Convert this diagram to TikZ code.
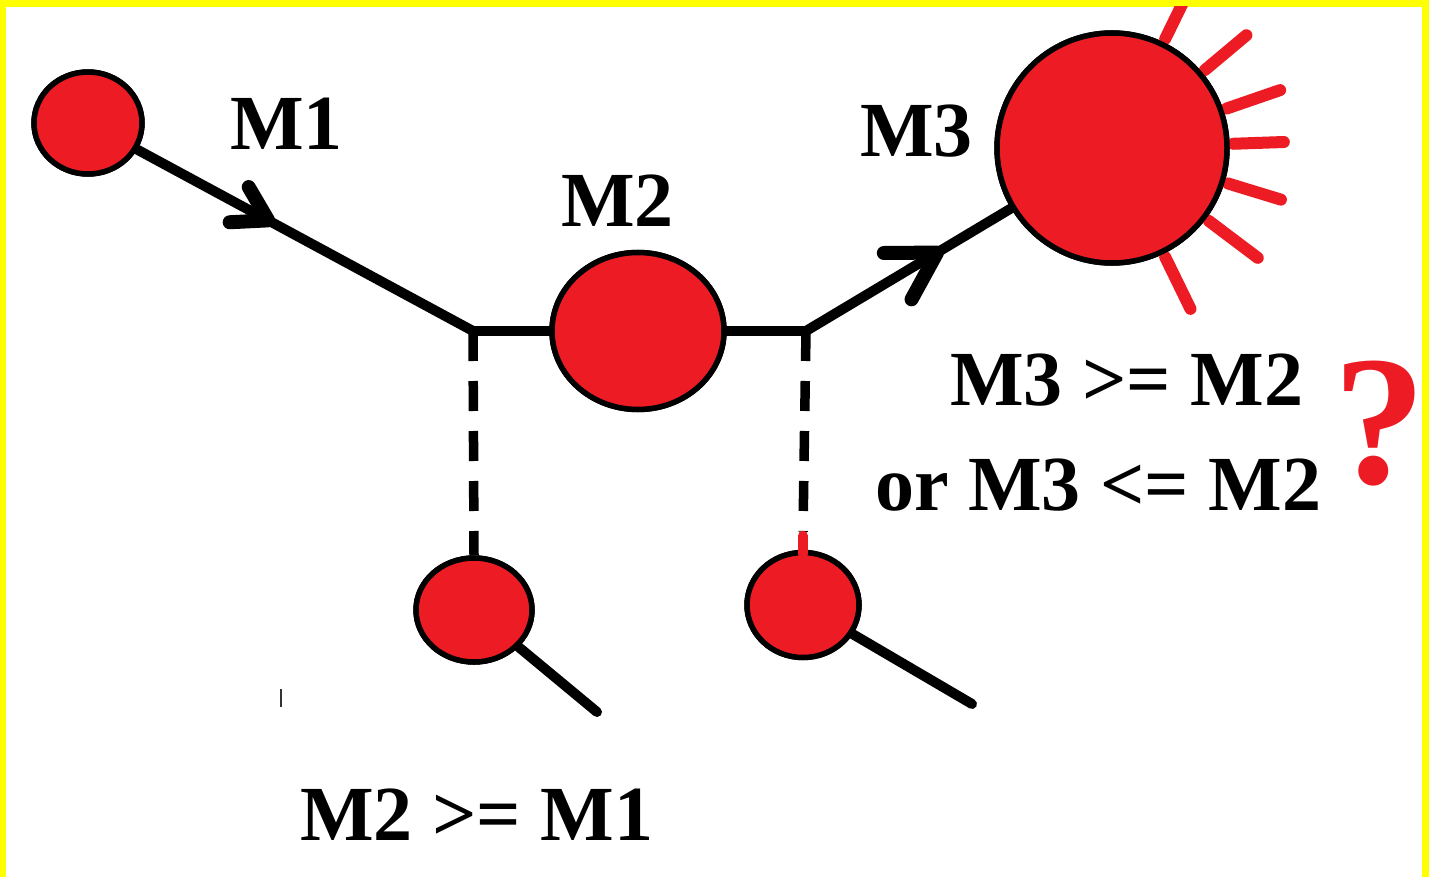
\documentclass[tikz,border=0pt]{standalone}
\usepackage{fontspec}
\setmainfont{Liberation Serif}
\usetikzlibrary{shapes.geometric,calc,decorations.markings}

\definecolor{paintred}{HTML}{ED1C24}
\definecolor{frameyellow}{HTML}{FFFF00}

\tikzset{
  ball/.style={ellipse, draw=black, fill=paintred, line width=5.5pt, inner sep=0pt},
  rod/.style={draw=black, line width=10pt, line cap=round, line join=round},
  dashrod/.style={draw=black, line width=9.5pt, dash pattern=on 30pt off 20pt},
  ray/.style={draw=paintred, line width=12pt, line cap=round},
  lbl/.style={anchor=base west, inner sep=0pt, font=\fontsize{78}{78}\selectfont\bfseries},
  % a hand-drawn barb placed part way along a rod
  barb/.style args={#1/#2/#3}{postaction={decorate}, decoration={markings,
      mark=at position #1 with {\draw[rod, line width=14pt] (-#2pt,#3pt) -- (0pt,0pt) -- (-#2pt,-#3pt);}}},
}

\begin{document}
\begin{tikzpicture}[x=1pt, y=-1pt]
  % page and frame
  \fill[white] (0,0) rectangle (1429,877);
  \fill[frameyellow] (0,0) rectangle (1429,7);
  \fill[frameyellow] (0,0) rectangle (6,877);
  \fill[frameyellow] (1422,0) rectangle (1429,877);
  \useasboundingbox (0,0) rectangle (1429,877);

  % junction points on the main chain
  \coordinate (J1) at (473,331);
  \coordinate (J2) at (806,331);

  % balls
  \node[ball, minimum width=108pt, minimum height=102pt] (C1) at (88,123) {};
  \node[ball, minimum width=172pt, minimum height=157pt] (C2) at (638,331) {};
  \node[ball, circle, minimum size=230pt] (C3) at (1112,148) {};
  \node[ball, minimum width=116pt, minimum height=104pt] (C4) at (474,610) {};
  \node[ball, minimum width=112pt, minimum height=105pt] (C5) at (803,605) {};

  % loose ends of the side chains
  \coordinate (T4) at (597,712);
  \coordinate (T5) at (972,704);

  % rays around the big ball
  \begin{scope}
    \clip (6,7) rectangle (1422,877);
    \foreach \a/\r in {64/1.45, 40/1.49, 19/1.51, 2/1.46, -17/1.50, -37/1.55, -64/1.52}{
      \draw[ray] ($(C3.center)!1.03!(C3.\a)$) -- ($(C3.center)!\r!(C3.\a)$);
    }
  \end{scope}

  % main chain
  \draw[rod, barb=0.39/33/20] (C1) -- (J1);
  \draw[rod] (J1) -- (C2);
  \draw[rod] (C2) -- (J2);
  \draw[rod, barb=0.64/46/27] (J2) -- (C3);

  % dashed links to the side balls
  \draw[dashrod] (J1) -- (C4.north);
  \draw[dashrod] (J2) -- ($(C5.north)+(0,-18)$);

  % side chains
  \draw[rod] (C4) -- (T4);
  \draw[rod] (C5) -- (T5);

  % redraw balls over the rod ends
  \node[ball, minimum width=108pt, minimum height=102pt] at (C1) {};
  \node[ball, minimum width=172pt, minimum height=157pt] at (C2) {};
  \node[ball, circle, minimum size=230pt] at (C3) {};
  \node[ball, minimum width=116pt, minimum height=104pt] at (C4) {};
  \node[ball, minimum width=112pt, minimum height=105pt] at (C5) {};
  \draw[draw=paintred, line width=10pt, line cap=round] ($(C5.north)+(0,-14)$) -- ($(C5.north)+(0,4)$);

  % small stray tick
  \draw[black!80, line width=2pt] (281,689) -- (281,707);

  % labels
  \node[lbl] (L1) at (230,150) {M1};
  \node[lbl] (L2) at (561,227) {M2};
  \node[lbl] (L3) at (860,157) {M3};
  \node[lbl] (Q1) at (950,405) {M3 >= M2};
  \node[lbl] (Q2) at (875,510) {or M3 <= M2};
  \node[lbl] (Q3) at (300,840) {M2 >= M1};
  \node[anchor=base west, inner sep=0pt, text=paintred,
        font=\fontsize{185}{185}\selectfont\bfseries] (QM) at (1333,483) {?};
\end{tikzpicture}
\end{document}
